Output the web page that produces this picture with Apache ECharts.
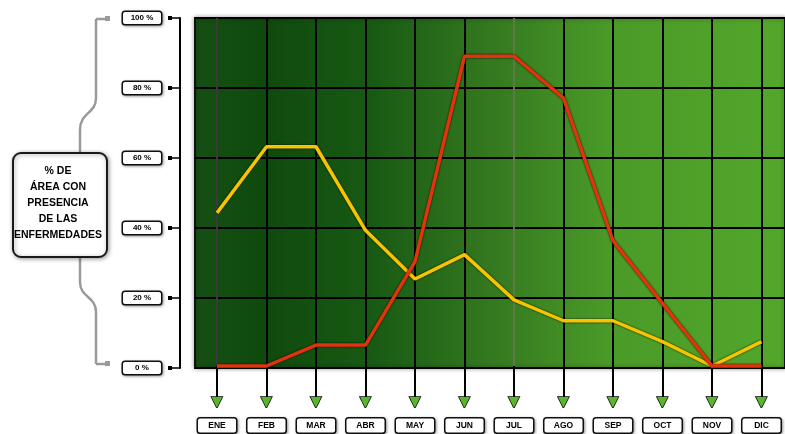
<!DOCTYPE html>
<html>
<head>
<meta charset="utf-8">
<script src="https://cdn.jsdelivr.net/npm/echarts@6/dist/echarts.min.js"></script>
<style>
  html, body { margin: 0; padding: 0; background: #ffffff; }
  #chart { width: 785px; height: 434px; }
</style>
</head>
<body>
<div id="chart"></div>
<script>
// Months of the year (Spanish abbreviations)
const months = ['ENE', 'FEB', 'MAR', 'ABR', 'MAY', 'JUN', 'JUL', 'AGO', 'SEP', 'OCT', 'NOV', 'DIC'];

// % of area with presence of each disease, per month
const yellowSeries = [44, 63, 63, 39, 25, 32, 19, 13, 13, 7, 0, 7];
const redSeries = [0, 0, 6, 6, 30, 89, 89, 77, 36, 18, 0, 0];

// Y axis range and step
const yMin = 0;
const yMax = 100;
const yStep = 20;

const axisTitle = '% DE\nÁREA CON\nPRESENCIA\nDE LAS\nENFERMEDADES';

const chart = echarts.init(document.getElementById('chart'), null, { renderer: 'canvas' });

const boxStyle = {
  backgroundColor: '#ffffff',
  borderColor: '#111111',
  borderWidth: 1.5,
  borderRadius: 2,
  shadowColor: 'rgba(0,0,0,0.35)',
  shadowBlur: 3,
  shadowOffsetX: 1,
  shadowOffsetY: 1,
  color: '#000000',
  fontFamily: 'Liberation Sans',
  fontWeight: 'bold',
  fontSize: 8,
  align: 'center',
  verticalAlign: 'middle'
};

// grey bracket pieces
const braceStyle = { stroke: '#9a9a9a', lineWidth: 2.5, fill: null };
const brace = [
  { type: 'line', shape: { x1: 110, y1: 19, x2: 96, y2: 19 } },
  { type: 'line', shape: { x1: 96, y1: 19, x2: 96, y2: 98 } },
  { type: 'bezierCurve', shape: { x1: 96, y1: 98, cpx1: 96, cpy1: 114, cpx2: 80, cpy2: 112, x2: 80, y2: 130 } },
  { type: 'line', shape: { x1: 80, y1: 130, x2: 80, y2: 282 } },
  { type: 'bezierCurve', shape: { x1: 80, y1: 282, cpx1: 80, cpy1: 298, cpx2: 96, cpy2: 296, x2: 96, y2: 312 } },
  { type: 'line', shape: { x1: 96, y1: 312, x2: 96, y2: 364 } },
  { type: 'line', shape: { x1: 96, y1: 364, x2: 110, y2: 364 } }
].map(function (el) { return Object.assign(el, { style: braceStyle, z: 1 }); });

const option = {
  animation: false,
  backgroundColor: '#ffffff',
  grid: [
    {
      // plot background panel
      left: 195, top: 18, right: -4, bottom: 66,
      show: true,
      borderColor: '#111111',
      borderWidth: 2,
      shadowColor: 'rgba(0,0,0,0.35)',
      shadowBlur: 4,
      backgroundColor: {
        type: 'linear', x: 0, y: 0, x2: 1, y2: 0,
        colorStops: [
          { offset: 0, color: '#164f14' },
          { offset: 0.12, color: '#0f4a0d' },
          { offset: 0.3, color: '#185a14' },
          { offset: 0.5, color: '#34781f' },
          { offset: 0.7, color: '#4a9a28' },
          { offset: 1, color: '#53a72b' }
        ]
      },
      containLabel: false
    },
    {
      // month positions
      left: 217, top: 18, right: 18, bottom: 66,
      containLabel: false
    }
  ],
  xAxis: [
    { gridIndex: 0, type: 'value', min: 0, max: 1, show: false },
    {
      gridIndex: 1,
      type: 'category',
      data: months,
      boundaryGap: false,
      axisLine: { show: false },
      axisTick: {
        show: true,
        alignWithLabel: true,
        length: 32,
        lineStyle: { color: '#000000', width: 2 }
      },
      splitLine: {
        show: true,
        lineStyle: {
          color: ['#3a3a3a', '#000000', '#000000', '#000000', '#000000', '#000000',
                  '#5d7a48', '#000000', '#000000', '#000000', '#000000', '#000000'],
          width: 2
        }
      },
      axisLabel: {
        show: true,
        interval: 0,
        margin: 29,
        formatter: function (v) { return '{tri|▼}\n{box|' + v + '}'; },
        rich: {
          tri: {
            fontFamily: 'DejaVu Sans',
            fontSize: 14,
            lineHeight: 15,
            color: '#58b52c',
            textBorderColor: '#000000',
            textBorderWidth: 1.5,
            align: 'center'
          },
          box: Object.assign({}, boxStyle, { width: 38, height: 14, lineHeight: 31, fontSize: 8.5 })
        }
      }
    }
  ],
  yAxis: [
    {
      gridIndex: 0,
      type: 'value',
      min: yMin,
      max: yMax,
      interval: yStep,
      offset: 15,
      axisLine: { show: true, onZero: false, lineStyle: { color: '#000000', width: 2 } },
      axisTick: { show: true, length: 10, lineStyle: { color: '#000000', width: 1.5 } },
      splitLine: { show: true, lineStyle: { color: '#000000', width: 2 } },
      axisLabel: {
        show: true,
        margin: 8,
        formatter: function (v) { return '{box|' + v + ' %}{sp|}{dot|}'; },
        rich: {
          box: Object.assign({}, boxStyle, { width: 38, height: 12 }),
          sp: { width: 7, height: 4, verticalAlign: 'middle' },
          dot: { width: 4, height: 4, backgroundColor: '#000000', verticalAlign: 'middle' }
        }
      }
    },
    { gridIndex: 1, type: 'value', min: yMin, max: yMax, show: false }
  ],
  graphic: brace.concat([
    { type: 'rect', shape: { x: 105, y: 16, width: 5, height: 5 }, style: { fill: '#9a9a9a' }, z: 1 },
    { type: 'rect', shape: { x: 105, y: 361, width: 5, height: 5 }, style: { fill: '#9a9a9a' }, z: 1 },
    {
      type: 'rect',
      shape: { x: 13, y: 153, width: 94, height: 104, r: 8 },
      style: {
        fill: '#ffffff', stroke: '#1a1a1a', lineWidth: 2,
        shadowColor: 'rgba(0,0,0,0.35)', shadowBlur: 4, shadowOffsetX: 1, shadowOffsetY: 1
      },
      z: 2
    },
    {
      type: 'text',
      x: 58, y: 203,
      style: {
        text: axisTitle,
        fill: '#000000',
        font: 'bold 10.5px "Liberation Sans"',
        lineHeight: 16,
        align: 'center',
        verticalAlign: 'middle'
      },
      z: 3
    }
  ]),
  series: [
    {
      name: 'amarilla',
      type: 'line',
      xAxisIndex: 1,
      yAxisIndex: 1,
      data: yellowSeries,
      symbol: 'none',
      clip: false,
      lineStyle: {
        color: '#f6c400',
        width: 3.5,
        shadowColor: 'rgba(0,0,0,0.9)',
        shadowBlur: 2
      },
      z: 3
    },
    {
      name: 'roja',
      type: 'line',
      xAxisIndex: 1,
      yAxisIndex: 1,
      data: redSeries,
      symbol: 'none',
      clip: false,
      lineStyle: {
        color: '#e2340c',
        width: 3.5,
        shadowColor: 'rgba(0,0,0,0.9)',
        shadowBlur: 2
      },
      z: 4
    }
  ]
};

chart.setOption(option);
</script>
</body>
</html>
